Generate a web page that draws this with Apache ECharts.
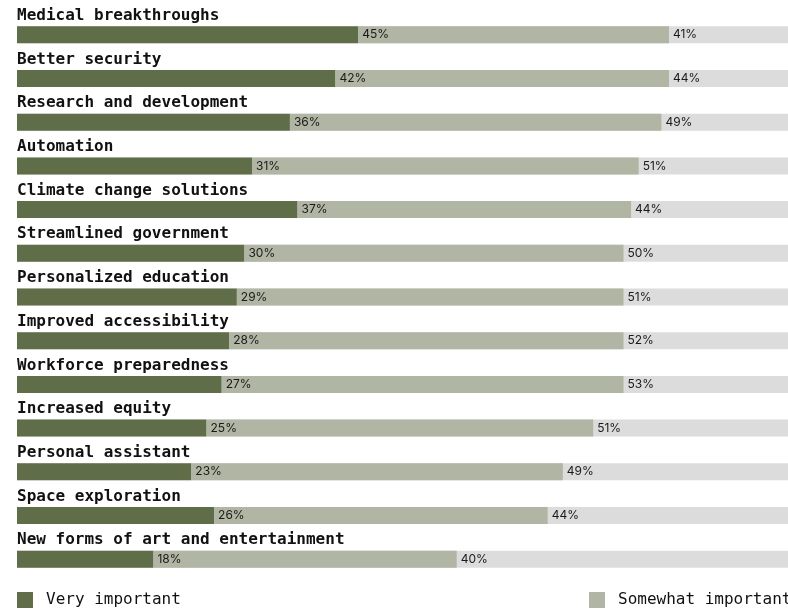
<!DOCTYPE html>
<html>
<head>
<meta charset="utf-8">
<script src="https://cdn.jsdelivr.net/npm/echarts@6/dist/echarts.min.js"></script>
<style>
  html, body { margin: 0; padding: 0; background: #fff; }
  #container { width: 788px; height: 610px; }
</style>
</head>
<body>
<div id="container"></div>
<script>
// Datos del gráfico
var categories = [
    'Medical breakthroughs', 'Better security', 'Research and development',
    'Automation', 'Climate change solutions', 'Streamlined government',
    'Personalized education', 'Improved accessibility', 'Workforce preparedness',
    'Increased equity', 'Personal assistant', 'Space exploration',
    'New forms of art and entertainment'
];
var veryImportant = [45, 42, 36, 31, 37, 30, 29, 28, 27, 25, 23, 26, 18];
var somewhatImportant = [41, 44, 49, 51, 44, 50, 51, 52, 53, 51, 49, 44, 40];

var dom = document.getElementById('container');
var myChart = echarts.init(dom);

var valueLabel = {
    show: true,
    position: 'right',
    distance: 4,
    formatter: '{c}%',
    color: '#1a1a1a',
    fontFamily: 'Inter',
    fontSize: 12
};

var option = {
    animation: false,
    grid: {
        left: 17,
        right: 0,
        top: 13,
        bottom: 29
    },
    xAxis: {
        type: 'value',
        min: 0,
        max: 101.7,
        show: false
    },
    yAxis: {
        type: 'category',
        data: categories,
        inverse: true,
        axisLine: { show: false },
        axisTick: { show: false },
        splitLine: { show: false },
        axisLabel: {
            inside: true,
            margin: 0,
            align: 'left',
            verticalAlign: 'bottom',
            padding: [0, 0, 11, 0],
            fontFamily: 'DejaVu Sans Mono',
            fontWeight: 'bold',
            fontSize: 16,
            color: '#111'
        },
        z: 5
    },
    legend: [
        {
            left: 17,
            top: 592,
            padding: 0,
            itemWidth: 16,
            itemHeight: 16,
            icon: 'rect',
            data: ['Very important'],
            textStyle: { fontFamily: 'DejaVu Sans Mono', fontSize: 16, color: '#111', padding: [0, 0, 0, 8] }
        },
        {
            left: 589,
            top: 592,
            padding: 0,
            itemWidth: 16,
            itemHeight: 16,
            icon: 'rect',
            data: ['Somewhat important'],
            textStyle: { fontFamily: 'DejaVu Sans Mono', fontSize: 16, color: '#111', padding: [0, 0, 0, 8] }
        }
    ],
    series: [
        {
            name: 'Very important',
            type: 'bar',
            stack: 'total',
            barWidth: 17,
            data: veryImportant,
            itemStyle: { color: '#5f6e48' },
            showBackground: true,
            backgroundStyle: { color: '#dcdcdd' },
            label: valueLabel
        },
        {
            name: 'Somewhat important',
            type: 'bar',
            stack: 'total',
            barWidth: 17,
            data: somewhatImportant,
            itemStyle: { color: '#b1b5a3' },
            label: valueLabel
        }
    ]
};

myChart.setOption(option);
window.addEventListener('resize', myChart.resize);
</script>
</body>
</html>
